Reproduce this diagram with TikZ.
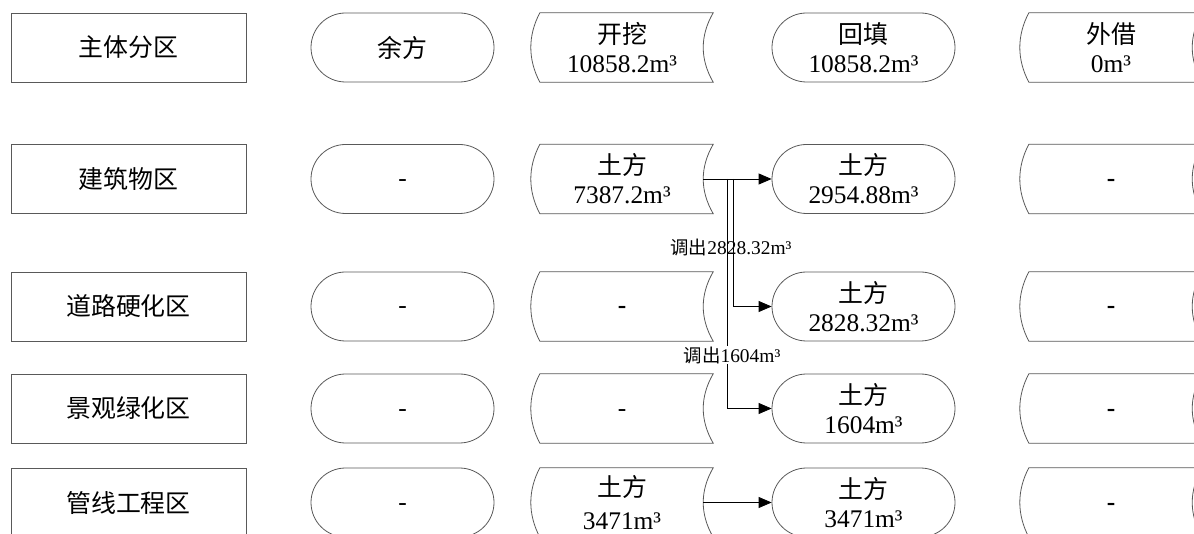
\documentclass[tikz,border=0pt]{standalone}
\usepackage{fontspec}
\setmainfont{Liberation Serif}
\newfontfamily\cjk{Noto Sans CJK SC}
\usetikzlibrary{arrows.meta,calc}
\newcommand\zh[1]{{\cjk\fontsize{25}{29}\selectfont #1}}
\newcommand\zhs[1]{{\cjk\fontsize{18.5}{20}\selectfont #1}}
\newcommand\dsh{\smash{\raisebox{-7.5bp}{-}}}
\newcommand\bdsh{\smash{\raisebox{-7.5bp}{\textbf{-}}}}
\definecolor{shapecol}{gray}{0.35}
\newcommand\sdpath[1]{%
  \draw[shapeline] ($(#1.north west)+(9,0)$) -- (#1.north east)
    .. controls ($(#1.north east)+(-13.3,23)$) and ($(#1.south east)+(-13.3,-23)$) .. (#1.south east)
    -- ($(#1.south west)+(9,0)$)
    .. controls ($(#1.south west)+(-3,-23)$) and ($(#1.north west)+(-3,23)$) .. ($(#1.north west)+(9,0)$) -- cycle;}
\tikzset{
  shapeline/.style={draw=shapecol, line width=0.8bp},
  zone/.style={shapeline, minimum width=235bp, minimum height=69bp, inner sep=0pt, align=center},
  term/.style={shapeline, rounded corners=34.5bp, minimum width=183bp, minimum height=69bp, inner sep=0pt, align=center},
  sd/.style={minimum width=182bp, minimum height=69bp, inner sep=0pt, align=center},
  conn/.style={draw=black, line width=0.8bp},
  arr/.style={conn, -{Triangle[length=13bp,width=11bp]}},
  lbl/.style={font=\fontsize{19.5}{22}\selectfont, inner sep=1bp}
}
\begin{document}
\begin{tikzpicture}[x=1bp,y=-1bp,font=\fontsize{25.5}{29}\selectfont]
\useasboundingbox (0,0) rectangle (1194,534);
\clip (0,0) rectangle (1194,534);
% row 1
\node[zone] (z1) at (128.5,47.5) {\zh{主体分区}};
\node[term] (y1) at (402.5,47.5) {\zh{余方}};
\node[sd]   (k1) at (622,47.5) {\zh{开挖}\\10858.2m³};
\node[term] (h1) at (863.5,47.5) {\zh{回填}\\10858.2m³};
\node[sd]   (w1) at (1111,47.5) {\zh{外借}\\0m³};
% row 2
\node[zone] (z2) at (128.5,179) {\zh{建筑物区}};
\node[term] (y2) at (402.5,179) {\dsh};
\node[sd]   (k2) at (622,179) {\zh{土方}\\7387.2m³};
\node[term] (h2) at (863.5,179) {\zh{土方}\\2954.88m³};
\node[sd]   (w2) at (1111,179) {\bdsh};
% row 3
\node[zone] (z3) at (128.5,306.5) {\zh{道路硬化区}};
\node[term] (y3) at (402.5,306.5) {\dsh};
\node[sd]   (k3) at (622,306.5) {\bdsh};
\node[term] (h3) at (863.5,306.5) {\zh{土方}\\2828.32m³};
\node[sd]   (w3) at (1111,306.5) {\bdsh};
% row 4
\node[zone] (z4) at (128.5,408.5) {\zh{景观绿化区}};
\node[term] (y4) at (402.5,408.5) {\dsh};
\node[sd]   (k4) at (622,408.5) {\dsh};
\node[term] (h4) at (863.5,408.5) {\zh{土方}\\1604m³};
\node[sd]   (w4) at (1111,408.5) {\bdsh};
% row 5
\node[zone] (z5) at (128.5,502.5) {\zh{管线工程区}};
\node[term] (y5) at (402.5,502.5) {\dsh};
\node[sd]   (k5) at (622,502.5) {\zh{土方}\\[4bp]3471m³};
\node[term] (h5) at (863.5,502.5) {\zh{土方}\\3471m³};
\node[sd]   (w5) at (1111,502.5) {\bdsh};
% stored data outlines
\foreach \n in {k1,k2,k3,k4,k5,w1,w2,w3,w4,w5}{\sdpath{\n}}
% connectors
\coordinate (o2) at ($(k2.east)+(-10,0)$);
\coordinate (o5) at ($(k5.east)+(-10,0)$);
\coordinate (ja) at ($(o2)+(24,0)$);
\coordinate (jb) at ($(o2)+(30,0)$);
\draw[arr] (o2) -- (h2.west);
\draw[arr] (jb) |- (h3.west);
\draw[arr] (ja) |- (h4.west);
\draw[arr] (o5) -- (h5.west);
\node[lbl] (l1) at (731,247) {\zhs{调出}2828.32m³};
\node[lbl, fill=white] (l2) at (732,355) {\zhs{调出}1604m³};
\end{tikzpicture}
\end{document}
